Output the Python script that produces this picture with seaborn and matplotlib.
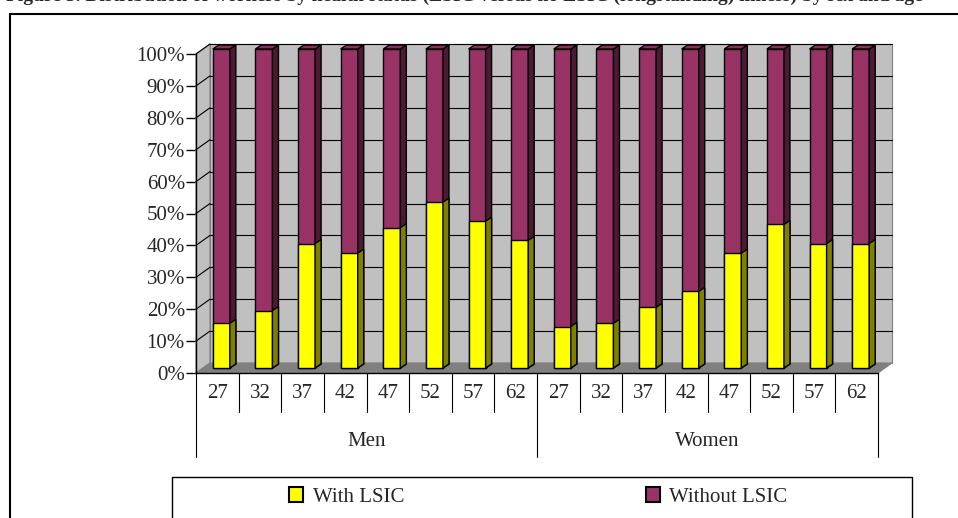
import numpy as np
import pandas as pd
import matplotlib
matplotlib.use("Agg")
import matplotlib.pyplot as plt
import matplotlib.transforms as mtrans
from matplotlib.patches import Polygon, Patch, Rectangle
from matplotlib.lines import Line2D
import seaborn as sns

# ---- data -------------------------------------------------------------
ages = [27, 32, 37, 42, 47, 52, 57, 62]
groups = ["Men", "Women"]
with_lsic_men = [14, 18, 39, 36, 44, 52, 46, 40]      # % with LSIC
with_lsic_women = [13, 14, 19, 24, 36, 45, 39, 39]
series_names = ["With LSIC", "Without LSIC"]
y_ticks = list(range(0, 101, 10))
title_lead = "Figure 3. Distribution of workers by health status "
title_rest = "(LSIC versus no LSIC (longstanding) illness) by sex and age"

rows = []
for g, vals in zip(groups, [with_lsic_men, with_lsic_women]):
    for a, v in zip(ages, vals):
        rows.append({"group": g, "age": a, "slot": f"{g} {a}",
                     "with": v, "total": 100})
df = pd.DataFrame(rows)
slots = list(df["slot"])

# ---- style ------------------------------------------------------------
sns.set_style("white")
plt.rcParams["font.family"] = ["Liberation Serif", "DejaVu Serif"]

PURPLE, PURPLE_SIDE, PURPLE_TOP = "#993366", "#4D1A33", "#8A2E5C"
YELLOW, YELLOW_SIDE = "#FFFF00", "#808000"
WALL, FLOOR = "#C0C0C0", "#808080"

W, H = 958, 518
fig = plt.figure(figsize=(W / 100, H / 100), dpi=100)
fig.patch.set_facecolor("white")


def fx(px):
    return px / W


def fy(py):
    return 1 - py / H


ax = fig.add_axes([fx(196), fy(373), fx(878) - fx(196), fy(54) - fy(373)])
ax.set_facecolor("none")
n = len(slots)
ax.set_xlim(-0.5, n - 0.5)
ax.set_ylim(0, 100)

# pixel scale of the axes -> depth offsets for the pseudo-3D look
ux = 682 / n          # px per category
uy = 319 / 100        # px per percent
DX, DY = 14 / ux, 10 / uy      # wall depth
SX, SY = 4 / ux, 5 / uy        # bar placement inside the box
BX, BY = 6 / ux, 4 / uy        # bar depth

# ---- bars (drawn by seaborn, then extruded) --------------------------
sns.barplot(data=df, x="slot", y="total", order=slots, color=PURPLE,
            saturation=1, width=0.4, edgecolor="black", linewidth=1,
            errorbar=None, ax=ax, zorder=4)
sns.barplot(data=df, x="slot", y="with", order=slots, color=YELLOW,
            saturation=1, width=0.4, edgecolor="black", linewidth=1,
            errorbar=None, ax=ax, zorder=6)
bars = list(ax.patches)
purple_bars, yellow_bars = bars[:n], bars[n:]


def extrude(rect, side_color, top_color, z):
    x0 = rect.get_x() + SX
    w = rect.get_width()
    h = rect.get_height()
    rect.set_x(x0)
    rect.set_y(SY)
    rect.set_clip_on(False)
    top = SY + h
    side = Polygon([(x0 + w, SY), (x0 + w + BX, SY + BY),
                    (x0 + w + BX, top + BY), (x0 + w, top)],
                   closed=True, fc=side_color, ec="black", lw=1,
                   zorder=z, clip_on=False)
    ax.add_patch(side)
    if top_color is not None:
        cap = Polygon([(x0, top), (x0 + w, top), (x0 + w + BX, top + BY),
                       (x0 + BX, top + BY)], closed=True, fc=top_color,
                      ec="black", lw=1, zorder=z, clip_on=False)
        ax.add_patch(cap)


for r in purple_bars:
    extrude(r, PURPLE_SIDE, PURPLE_TOP, 4)
for r in yellow_bars:
    extrude(r, YELLOW_SIDE, None, 6)

# ---- walls and floor -------------------------------------------------
x_l, x_r = -0.5, n - 0.5
ax.add_patch(Polygon([(x_l + DX, DY), (x_r + DX, DY), (x_r + DX, 100 + DY),
                      (x_l + DX, 100 + DY)], closed=True, fc=WALL,
                     ec="#808080", lw=0.8, zorder=0.5, clip_on=False))
ax.add_patch(Polygon([(x_l, 0), (x_l + DX, DY), (x_l + DX, 100 + DY),
                      (x_l, 100)], closed=True, fc=WALL, ec="#808080",
                     lw=0.8, zorder=0.6, clip_on=False))
ax.add_patch(Polygon([(x_l, 0), (x_r, 0), (x_r + DX, DY), (x_l + DX, DY)],
                     closed=True, fc=FLOOR, ec="#808080", lw=0.8,
                     zorder=0.7, clip_on=False))
for v in y_ticks[1:]:
    ax.add_line(Line2D([x_l + DX, x_r + DX], [v + DY, v + DY], color="black",
                       lw=0.8, zorder=1, clip_on=False))
    ax.add_line(Line2D([x_l, x_l + DX], [v, v + DY], color="black",
                       lw=0.8, zorder=1, clip_on=False))

# ---- axes -----------------------------------------------------------
for s in ["top", "right"]:
    ax.spines[s].set_visible(False)
for s in ["left", "bottom"]:
    ax.spines[s].set_color("black")
    ax.spines[s].set_linewidth(1)
    ax.spines[s].set_zorder(8)
ax.set_yticks(y_ticks)
ax.set_yticklabels([f"{v}%" for v in y_ticks], fontsize=15)
ax.tick_params(axis="y", direction="out", length=7, width=1, color="black",
               pad=1, left=True)
ax.set_xticks([])
ax.set_xlabel("")
ax.set_ylabel("")

# two-level category axis
trans = mtrans.blended_transform_factory(ax.transData, fig.transFigure)
for i, a in enumerate(list(df["age"])):
    ax.text(i, fy(393), str(a), transform=trans, ha="center", va="center",
            fontsize=15)
for b in range(n + 1):
    bottom = 457 if b % len(ages) == 0 else 412
    ax.add_line(Line2D([b - 0.5, b - 0.5], [fy(373), fy(bottom)],
                       transform=trans, color="black", lw=0.8,
                       clip_on=False))
for k, g in enumerate(groups):
    xc = k * len(ages) + (len(ages) - 1) / 2
    ax.text(xc, fy(442), g, transform=trans, ha="center", va="center",
            fontsize=15)

# ---- legend --------------------------------------------------------
fig.add_artist(Rectangle((fx(172), fy(540)), fx(912) - fx(172),
                         fy(477) - fy(540), transform=fig.transFigure,
                         fc="white", ec="black", lw=1))
handles = [Patch(fc=YELLOW, ec="black", lw=1.5),
           Patch(fc=PURPLE, ec="black", lw=1.5)]
fig.legend(handles, series_names, loc="center left",
           bbox_to_anchor=(fx(289), fy(497)), ncol=2, frameon=False,
           fontsize=15, handlelength=0.68, handleheight=0.68,
           handletextpad=0.45, columnspacing=11.6, borderpad=0,
           borderaxespad=0)

# ---- outer frame and title (the page crops the caption) ------------
fig.add_artist(Line2D([fx(10), fx(10)], [fy(14), fy(560)],
                      transform=fig.transFigure, color="black", lw=1.5))
fig.add_artist(Line2D([fx(10), fx(990)], [fy(14), fy(14)],
                      transform=fig.transFigure, color="black", lw=1.5))

renderer = fig.canvas.get_renderer()
probe = fig.text(0, 0, title_lead.replace(" ", "_"), fontsize=14,
                 fontweight="bold")
lead = probe.get_window_extent(renderer).width
probe.remove()
fig.text(fx(462 - lead), fy(0.5), title_lead + title_rest, fontsize=14,
         fontweight="bold", ha="left", va="baseline")

fig.savefig("out.png", dpi=100)
